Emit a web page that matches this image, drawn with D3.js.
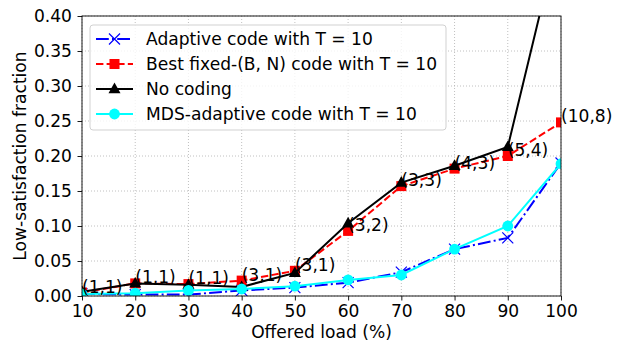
<!DOCTYPE html>
<html>
<head>
<meta charset="utf-8">
<script src="https://cdnjs.cloudflare.com/ajax/libs/d3/7.8.5/d3.min.js"></script>
<style>
  body { margin: 0; background: #fff; }
  text { font-family: "DejaVu Sans", sans-serif; }
</style>
</head>
<body>
<svg width="625" height="343" id="chart"></svg>
<script>
// data
var loads = [10, 20, 30, 40, 50, 60, 70, 80, 90, 100];
var adaptive = [0.003, 0.002, 0.002, 0.008, 0.012, 0.019, 0.034, 0.067, 0.083, 0.190];
var bestFixed = [0.005, 0.018, 0.017, 0.022, 0.036, 0.093, 0.157, 0.182, 0.200, 0.248];
var noCoding = [0.006, 0.018, 0.016, 0.013, 0.033, 0.104, 0.162, 0.186, 0.213, 0.528];
var mdsAdaptive = [0.003, 0.004, 0.008, 0.010, 0.014, 0.023, 0.030, 0.067, 0.100, 0.189];
var codeLabels = ["(1,1)", "(1,1)", "(1,1)", "(3,1)", "(3,1)", "(3,2)", "(3,3)", "(4,3)", "(5,4)", "(10,8)"];
var xTicks = [10, 20, 30, 40, 50, 60, 70, 80, 90, 100];
var yTicks = [0, 0.05, 0.10, 0.15, 0.20, 0.25, 0.30, 0.35, 0.40];

var svg = d3.select("svg"),
    margin = {top: 16, right: 64, bottom: 47, left: 82},
    width = 625 - margin.left - margin.right,
    height = 343 - margin.top - margin.bottom,
    fontSize = "17.1px";

var x = d3.scaleLinear().domain([10, 100]).range([0, width]),
    y = d3.scaleLinear().domain([0, 0.40]).range([height, 0]);

var g = svg.append("g").attr("transform", "translate(" + margin.left + "," + margin.top + ")");

g.append("clipPath").attr("id", "plotclip")
  .append("rect").attr("width", width).attr("height", height);

//grid
g.append("g").selectAll("line").data(xTicks).enter().append("line")
  .attr("x1", function(d) { return x(d); }).attr("x2", function(d) { return x(d); })
  .attr("y1", 0).attr("y2", height)
  .attr("stroke", "#b0b0b0").attr("stroke-width", 0.8).attr("stroke-dasharray", "1,2");
g.append("g").selectAll("line").data(yTicks).enter().append("line")
  .attr("y1", function(d) { return y(d); }).attr("y2", function(d) { return y(d); })
  .attr("x1", 0).attr("x2", width)
  .attr("stroke", "#b0b0b0").attr("stroke-width", 0.8).attr("stroke-dasharray", "1,2");

//axes
var xAxis = g.append("g")
  .attr("transform", "translate(0," + height + ")")
  .call(d3.axisBottom(x).tickValues(xTicks).tickSize(4.5).tickPadding(4.5).tickFormat(d3.format("d")));
var yAxis = g.append("g")
  .call(d3.axisLeft(y).tickValues(yTicks).tickSize(4.5).tickPadding(5.5).tickFormat(d3.format(".2f")));
[xAxis, yAxis].forEach(function(a) {
  a.select(".domain").remove();
  a.selectAll("line").attr("stroke", "#000").attr("stroke-width", 0.9);
  a.selectAll("text").attr("fill", "#000").style("font-size", fontSize).attr("font-family", "DejaVu Sans");
});

//series
var series = [
  {name: "Adaptive code with T = 10", values: adaptive, color: "#0000ff", dash: "12.8,3.2,2,3.2", marker: "x"},
  {name: "Best fixed-(B, N) code with T = 10", values: bestFixed, color: "#ff0000", dash: "7.4,3.2", marker: "square"},
  {name: "No coding", values: noCoding, color: "#000000", dash: null, marker: "triangle"},
  {name: "MDS-adaptive code with T = 10", values: mdsAdaptive, color: "#00ffff", dash: null, marker: "circle"}
];

function drawMarker(sel, type, color) {
  if (type === "x") {
    sel.append("path").attr("d", "M-5.5,-5.5L5.5,5.5M-5.5,5.5L5.5,-5.5")
      .attr("stroke", color).attr("stroke-width", 1.2).attr("fill", "none");
  } else if (type === "square") {
    sel.append("rect").attr("x", -5).attr("y", -5).attr("width", 10).attr("height", 10).attr("fill", color);
  } else if (type === "triangle") {
    sel.append("path").attr("d", "M0,-6.5L6,4.2L-6,4.2Z").attr("fill", color);
  } else {
    sel.append("circle").attr("r", 5.4).attr("fill", color);
  }
}

var line = d3.line()
  .x(function(d, i) { return x(loads[i]); })
  .y(function(d) { return y(d); });

var plot = g.append("g").attr("clip-path", "url(#plotclip)");
series.forEach(function(s) {
  plot.append("path")
    .datum(s.values)
    .attr("fill", "none")
    .attr("stroke", s.color)
    .attr("stroke-width", 2)
    .attr("stroke-dasharray", s.dash)
    .attr("d", line);
  plot.append("g").selectAll("g").data(s.values).enter().append("g")
    .attr("transform", function(d, i) { return "translate(" + x(loads[i]) + "," + y(d) + ")"; })
    .each(function() { drawMarker(d3.select(this), s.marker, s.color); });
});

//code labels at the best fixed points
g.append("g").selectAll("text").data(codeLabels).enter().append("text")
  .attr("x", function(d, i) { return x(loads[i]); })
  .attr("y", function(d, i) { return y(bestFixed[i]); })
  .style("font-size", fontSize)
  .attr("fill", "#000")
  .text(function(d) { return d; });

//frame
g.append("rect").attr("width", width).attr("height", height)
  .attr("fill", "none").attr("stroke", "#000").attr("stroke-width", 0.9);

//axis titles
g.append("text")
  .attr("x", width / 2).attr("y", height + 42)
  .attr("text-anchor", "middle").style("font-size", fontSize)
  .text("Offered load (%)");
g.append("text")
  .attr("transform", "rotate(-90)")
  .attr("x", -height / 2).attr("y", -56)
  .attr("text-anchor", "middle").style("font-size", fontSize)
  .text("Low-satisfaction fraction");

//legend
var legend = g.append("g").attr("transform", "translate(8,9)");
legend.append("rect").attr("width", 356).attr("height", 105).attr("rx", 3)
  .attr("fill", "#fff").attr("fill-opacity", 0.8).attr("stroke", "#cccccc").attr("stroke-width", 0.9);
series.forEach(function(s, i) {
  var row = legend.append("g").attr("transform", "translate(0," + (14 + i * 25) + ")");
  row.append("line").attr("x1", 6).attr("x2", 43).attr("y1", 0).attr("y2", 0)
    .attr("stroke", s.color).attr("stroke-width", 2).attr("stroke-dasharray", s.dash);
  var m = row.append("g").attr("transform", "translate(24.5,0)");
  drawMarker(m, s.marker, s.color);
  row.append("text").attr("x", 56).attr("y", 6).style("font-size", fontSize).text(s.name);
});
</script>
</body>
</html>
